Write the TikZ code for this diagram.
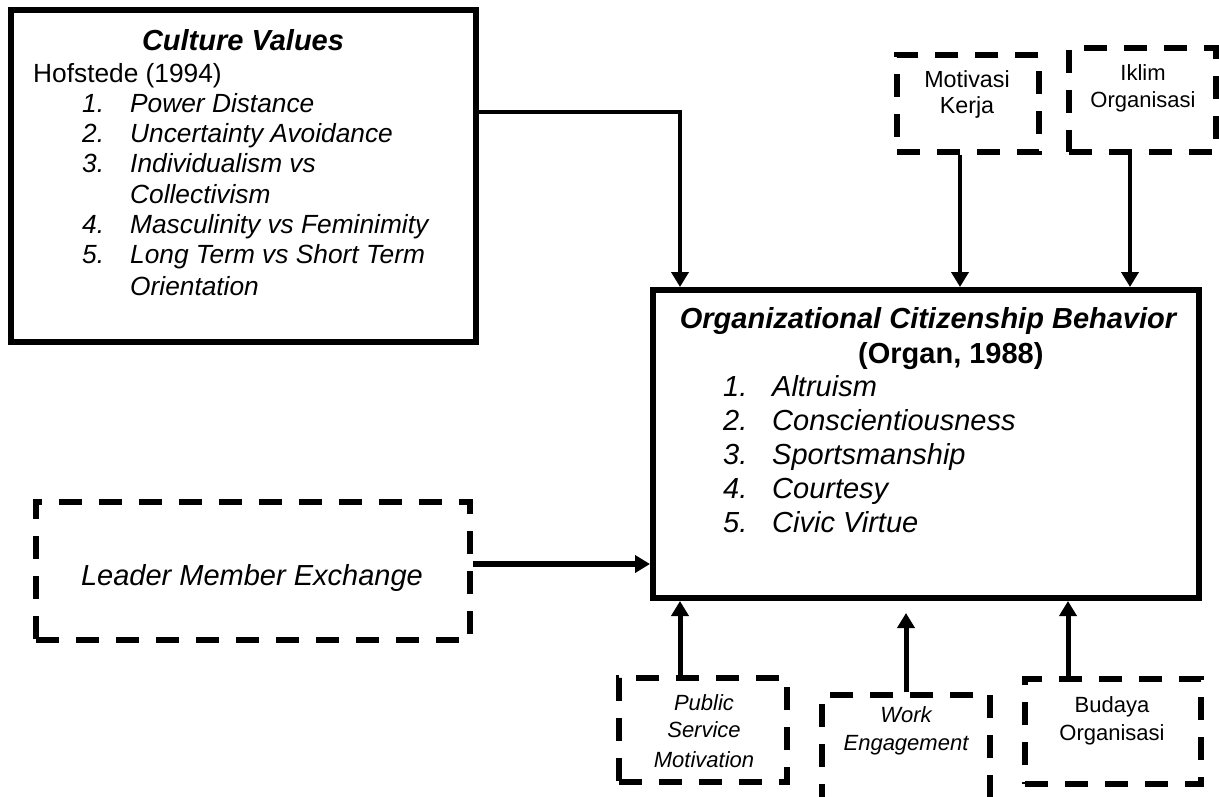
\documentclass[tikz,border=0pt]{standalone}
\usepackage{fontspec}
\setmainfont{Liberation Sans}
\usetikzlibrary{arrows.meta}
\begin{document}
\begin{tikzpicture}[x=1pt,y=-1pt,
  box/.style={draw, inner sep=0pt, line width=5.5pt},
  dbox/.style={draw, inner sep=0pt, line width=5.5pt, dash pattern=on 23pt off 17pt},
  arr/.style={line width=4.5pt, -{Triangle[length=15pt,width=17pt]}},
  cv/.style={inner sep=0pt, anchor=base west, font=\fontsize{26.3}{30}\selectfont},
  cvi/.style={cv, font=\fontsize{26.3}{30}\selectfont\itshape},
  oc/.style={inner sep=0pt, anchor=base west, font=\fontsize{29}{34}\selectfont\itshape},
  sm/.style={inner sep=0pt, anchor=base, font=\fontsize{22}{26}\selectfont},
  smi/.style={sm, font=\fontsize{22}{26}\selectfont\itshape}
]
\useasboundingbox (0,0) rectangle (1219,796);
\fill[white] (0,0) rectangle (1219,796);
\clip (0,0) rectangle (1219,796);

% boxes
\node[box, minimum width=465pt, minimum height=332pt] (culture) at (243.5,176) {};
\node[box, line width=6pt, minimum width=546pt, minimum height=308pt] (ocb) at (926,444) {};
\node[dbox, minimum width=434pt, minimum height=138pt] (lme) at (253,571) {};
\node[dbox, minimum width=142pt, minimum height=97pt] (motiv) at (968,103.5) {};
\node[dbox, minimum width=147pt, minimum height=104pt] (iklim) at (1142.5,100) {};
\node[dbox, minimum width=168pt, minimum height=104pt] (psm) at (703,730) {};
\node[dbox, minimum width=168pt, minimum height=135pt] (work) at (906,762.5) {};
\node[dbox, minimum width=176pt, minimum height=105pt] (budaya) at (1113,731.5) {};

% culture values text
\node[inner sep=0pt, anchor=base, font=\fontsize{29}{34}\selectfont\bfseries\itshape] (cvt) at (243,50) {Culture Values};
\node[cv] (hof) at (33,82) {Hofstede (1994)};
\node[cvi] (n1) at (82,112) {1.};
\node[cvi] (i1) at (130,112) {Power Distance};
\node[cvi] (n2) at (82,142) {2.};
\node[cvi] (i2) at (130,142) {Uncertainty Avoidance};
\node[cvi] (n3) at (82,172) {3.};
\node[cvi] (i3) at (130,172) {Individualism vs};
\node[cvi] (i3b) at (130,203) {Collectivism};
\node[cvi] (n4) at (82,233) {4.};
\node[cvi] (i4) at (130,233) {Masculinity vs Feminimity};
\node[cvi] (n5) at (82,263) {5.};
\node[cvi] (i5) at (130,263) {Long Term vs Short Term};
\node[cvi] (i5b) at (130,295) {Orientation};

% OCB text
\node[inner sep=0pt, anchor=base, font=\fontsize{29}{34}\selectfont\bfseries\itshape] (ocbt) at (928,328) {Organizational Citizenship Behavior};
\node[inner sep=0pt, anchor=base west, font=\fontsize{29}{34}\selectfont\bfseries] (organ) at (858,363) {(Organ, 1988)};
\node[oc] (o1) at (723,396) {1.};
\node[oc] (p1) at (772,396) {Altruism};
\node[oc] (o2) at (723,430) {2.};
\node[oc] (p2) at (772,430) {Conscientiousness};
\node[oc] (o3) at (723,464) {3.};
\node[oc] (p3) at (772,464) {Sportsmanship};
\node[oc] (o4) at (723,498) {4.};
\node[oc] (p4) at (772,498) {Courtesy};
\node[oc] (o5) at (723,532) {5.};
\node[oc] (p5) at (772,532) {Civic Virtue};

% LME text
\node[inner sep=0pt, anchor=base, font=\fontsize{29}{34}\selectfont\itshape] (lmet) at (252,585) {Leader Member Exchange};

% small boxes text
\node[sm, font=\fontsize{23.3}{27}\selectfont] (mk1) at (967,87) {Motivasi};
\node[sm, font=\fontsize{23.3}{27}\selectfont] (mk2) at (967,113) {Kerja};
\node[sm] (io1) at (1143,80) {Iklim};
\node[sm] (io2) at (1143,107) {Organisasi};
\node[smi] (ps1) at (704,710) {Public};
\node[smi] (ps2) at (704,737) {Service};
\node[smi] (ps3) at (704,767) {Motivation};
\node[smi] (we1) at (906,722) {Work};
\node[smi] (we2) at (906,750) {Engagement};
\node[sm] (bo1) at (1112,712) {Budaya};
\node[sm] (bo2) at (1112,740) {Organisasi};

% connector guide coordinates
\coordinate (c1) at (680,112);
\coordinate (c2) at (960,0);
\coordinate (c3) at (1130,0);
\coordinate (c4) at (0,564);
\coordinate (c5) at (680,0);
\coordinate (c6) at (906,0);
\coordinate (c7) at (1068,0);

% connectors
\draw[arr] (culture.east |- c1) -| (ocb.north -| c1);
\draw[arr] (motiv.south -| c2) -- (ocb.north -| c2);
\draw[arr] (iklim.south -| c3) -- (ocb.north -| c3);
\draw[arr, line width=6pt] (lme.east |- c4) -- (ocb.west |- c4);
\draw[arr, line width=5pt] (psm.north -| c5) -- (ocb.south -| c5);
\draw[arr, line width=5pt, shorten >=12pt] (work.north -| c6) -- (ocb.south -| c6);
\draw[arr, line width=5pt] (budaya.north -| c7) -- (ocb.south -| c7);
\end{tikzpicture}
\end{document}
